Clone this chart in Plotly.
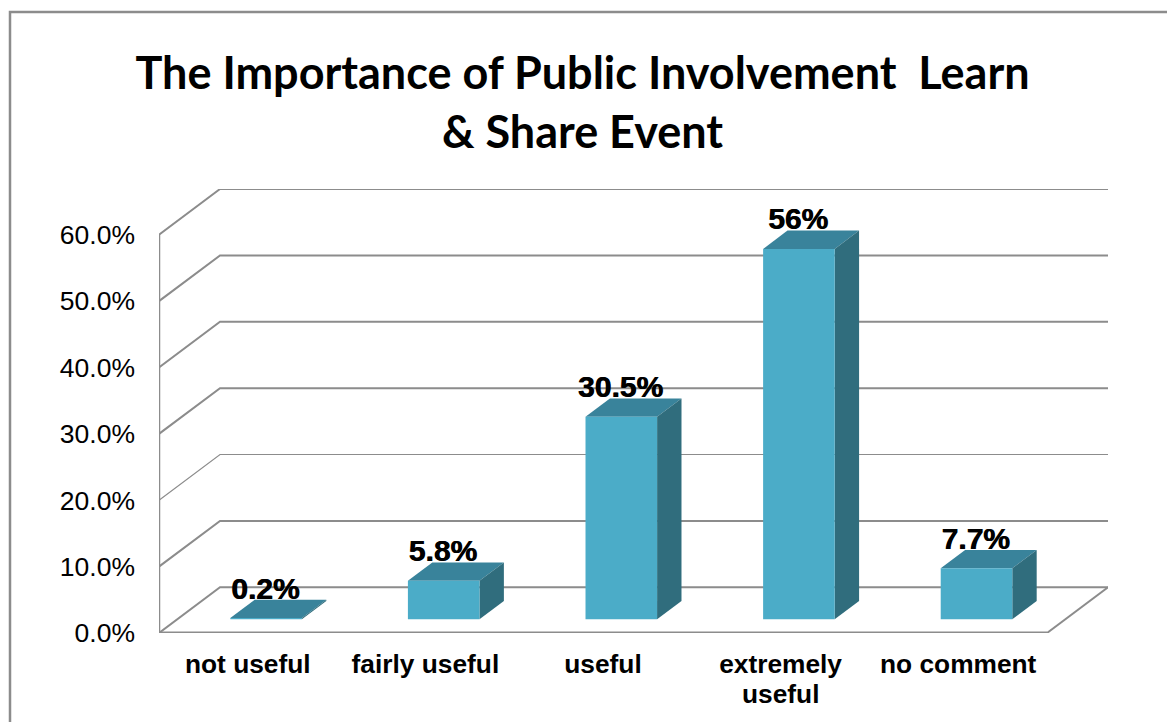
import plotly.graph_objects as go

categories = ["not useful", "fairly useful", "useful", "extremely useful", "no comment"]
values = [0.2, 5.8, 30.5, 55.8, 7.7]
value_labels = ["0.2%", "5.8%", "30.5%", "56%", "7.7%"]
y_ticks = [0, 10, 20, 30, 40, 50, 60]
y_tick_labels = ["0.0%", "10.0%", "20.0%", "30.0%", "40.0%", "50.0%", "60.0%"]
title = "The Importance of Public Involvement\u00a0\u00a0Learn<br>&amp; Share Event"

# fake 3d: how far the back wall sits behind the front plane, in data units
DX = 0.3435
DY = 6.89
BAR_W = 0.403
BAR_FRONT = 0.3   # bar front face, as part of the floor depth
BAR_DEPTH = 0.4

GREY = "#8c8c8c"
FRONT = "#4bacc8"
TOP = "#39839b"
SIDE = "#306d7d"
ARIAL = "Liberation Sans"
X_FONT = dict(family=ARIAL, size=26.3, color="black", weight="bold")

fig = go.Figure()


def line(xs, ys, width=2):
    fig.add_trace(go.Scatter(x=xs, y=ys, mode="lines", cliponaxis=False, hoverinfo="skip",
                             line=dict(color=GREY, width=width)))


def face(xs, ys, color):
    fig.add_trace(go.Scatter(x=xs, y=ys, mode="lines", fill="toself", fillcolor=color,
                             cliponaxis=False, hoverinfo="skip", line=dict(width=0, color=color)))


# walls and gridlines
n = len(categories)
for t in y_ticks:
    w = 1.2 if t == 20 else 2
    line([0, DX, n + DX], [t, t + DY, t + DY], w)
line([0, 0], [0, 60], 2.5)
line([n, n + DX], [0, DY], 2)
line([0, n], [0, 0], 3)

# bars, all three faces are scatter fills so they stack above the gridlines
centers = [i + 0.5 + BAR_FRONT * DX for i in range(n)]
base = BAR_FRONT * DY
ox = BAR_DEPTH * DX
oy = BAR_DEPTH * DY
for c, v in zip(centers, values):
    l = c - BAR_W / 2
    r = c + BAR_W / 2
    top = base + v
    face([l, l + ox, r + ox, r, l], [top, top + oy, top + oy, top, top], TOP)
    face([r, r + ox, r + ox, r, r], [base, base + oy, top + oy, top, base], SIDE)
    face([l, r, r, l, l], [base, base, top, top, base], FRONT)

fig.add_trace(go.Scatter(x=[c - 0.005 for c in centers], y=[base + v + oy + 1.3 for v in values], mode="text",
                         text=value_labels, textposition="middle center", cliponaxis=False, hoverinfo="skip",
                         textfont=dict(family=ARIAL, size=30, color="black", weight="bold",
                                       shadow="0.7px 0 0 #000")))

W, H = 1167, 722
L, R, T, B = 159, 59, 189, 89
PW = W - L - R
PH = H - T - B


def paper_x(px):
    return (px - L) / PW


def paper_y(py):
    return (H - B - py) / PH


# wrapped label keeps its tighter line spacing: second line goes on as an annotation
first_lines = [c.split(" ")[0] if c.startswith("extremely") else c for c in categories]
wrapped = categories.index("extremely useful")

fig.update_layout(
    width=W, height=H, showlegend=False, paper_bgcolor="white", plot_bgcolor="white",
    margin=dict(l=L, r=R, t=T, b=B, autoexpand=False),
    title=dict(text=title, x=582.5 / W, xanchor="center", y=1 - 89 / H, yanchor="top",
               font=dict(family="Lato", size=45, color="black", weight="bold")),
    xaxis=dict(range=[0, n + DX], tickvals=[i + 0.5 for i in range(n)], ticktext=first_lines, showgrid=False,
               zeroline=False, showline=False, ticks="", tickangle=0, ticklabelstandoff=13, tickfont=X_FONT),
    yaxis=dict(range=[0, 60 + DY], tickvals=y_ticks, ticktext=y_tick_labels, showgrid=False,
               zeroline=False, showline=False, ticks="", ticklabelstandoff=23,
               tickfont=dict(family=ARIAL, size=26.5, color="black")),
    annotations=[dict(text=categories[wrapped].split(" ")[1], x=wrapped + 0.5, xref="x", y=paper_y(694), yref="paper",
                      xanchor="center", yanchor="middle", showarrow=False, font=X_FONT)],
    # outer chart frame, runs off the page on the right and at the bottom
    shapes=[dict(type="path", xref="paper", yref="paper", line=dict(color=GREY, width=2.5),
                 path="M %f %f L %f %f L %f %f" % (paper_x(10), paper_y(H + 5), paper_x(10), paper_y(12),
                                                   paper_x(W + 5), paper_y(12)))],
)

fig.write_html("out.html", config=dict(displayModeBar=False), post_script="document.body.style.margin='0';")
